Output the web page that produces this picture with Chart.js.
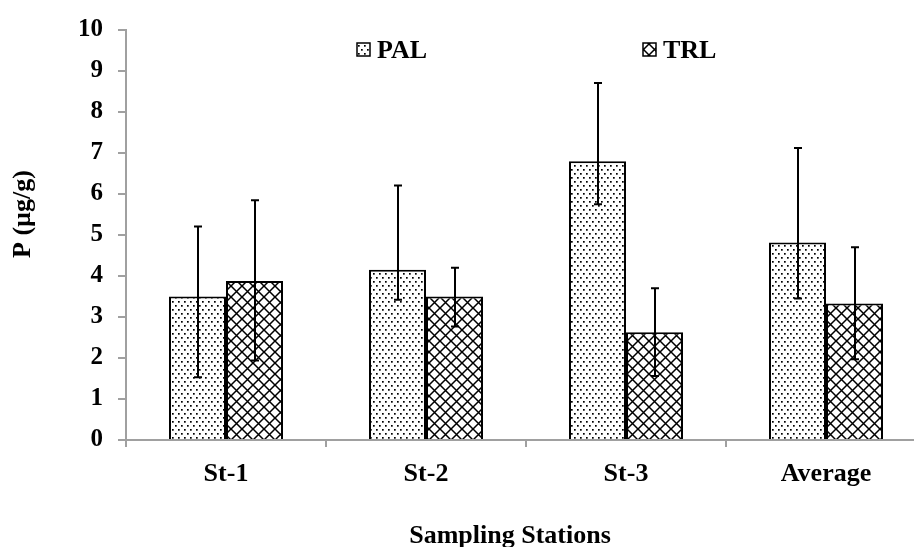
<!DOCTYPE html>
<html>
<head>
<meta charset="utf-8">
<script src="https://cdn.jsdelivr.net/npm/chart.js@4/dist/chart.umd.min.js"></script>
<style>
  html, body { margin: 0; padding: 0; background: #fff; overflow: hidden; }
  #wrap { position: relative; width: 940px; height: 547px; }
</style>
</head>
<body>
<div id="wrap"><canvas id="chart"></canvas></div>
<script>
const categories = ['St-1', 'St-2', 'St-3', 'Average'];
const seriesNames = ['PAL', 'TRL'];
const palValues = [3.5, 4.15, 6.8, 4.82];
const trlValues = [3.88, 3.5, 2.63, 3.33];
const palHigh = [5.21, 6.21, 8.71, 7.12];
const palLow = [1.53, 3.42, 5.75, 3.45];
const trlHigh = [5.85, 4.2, 3.7, 4.7];
const trlLow = [1.94, 2.77, 1.56, 1.97];
const yTicks = [0, 1, 2, 3, 4, 5, 6, 7, 8, 9, 10];
const xTitle = 'Sampling Stations';
const yTitle = 'P (µg/g)';

const FONT = "'Liberation Serif', 'Times New Roman', serif";

function dotPattern() {
  const c = document.createElement('canvas');
  c.width = 6; c.height = 8;
  const g = c.getContext('2d');
  g.fillStyle = '#fff'; g.fillRect(0, 0, 6, 8);
  g.fillStyle = '#000';
  g.fillRect(1, 1, 1.7, 1.7);
  g.fillRect(4, 5, 1.7, 1.7);
  return g.createPattern(c, 'repeat');
}

function crossPattern() {
  const c = document.createElement('canvas');
  c.width = 11; c.height = 11;
  const g = c.getContext('2d');
  g.fillStyle = '#fff'; g.fillRect(0, 0, 11, 11);
  g.strokeStyle = '#000'; g.lineWidth = 1.5;
  g.beginPath();
  g.moveTo(-1, -1); g.lineTo(12, 12);
  g.moveTo(12, -1); g.lineTo(-1, 12);
  g.stroke();
  return g.createPattern(c, 'repeat');
}

const patterns = [dotPattern(), crossPattern()];
const highs = [palHigh, trlHigh];
const lows = [palLow, trlLow];

// error bars drawn from the same y scale
const errorBars = {
  id: 'errorBars',
  afterDatasetsDraw(chart) {
    const ctx = chart.ctx, y = chart.scales.y;
    ctx.save();
    ctx.strokeStyle = '#000';
    ctx.lineWidth = 2;
    chart.data.datasets.forEach((ds, di) => {
      chart.getDatasetMeta(di).data.forEach((bar, i) => {
        const yh = y.getPixelForValue(highs[di][i]);
        const yl = y.getPixelForValue(lows[di][i]);
        const x = Math.round(bar.x);
        ctx.beginPath();
        ctx.moveTo(x, yh); ctx.lineTo(x, yl);
        ctx.moveTo(x - 4, yh); ctx.lineTo(x + 4, yh);
        ctx.moveTo(x - 4, yl); ctx.lineTo(x + 4, yl);
        ctx.stroke();
      });
    });
    ctx.restore();
  }
};

// legend and axis titles
const decorations = {
  id: 'decorations',
  afterDraw(chart) {
    const ctx = chart.ctx;
    ctx.save();
    ctx.font = 'bold 26px ' + FONT;
    ctx.fillStyle = '#000';
    ctx.textBaseline = 'middle';
    const legendX = [357, 643];
    chart.data.datasets.forEach((ds, i) => {
      const x = legendX[i];
      ctx.fillStyle = ds.backgroundColor;
      ctx.fillRect(x, 43, 13, 13);
      ctx.strokeStyle = '#000';
      ctx.lineWidth = 1.5;
      ctx.strokeRect(x, 43, 13, 13);
      ctx.fillStyle = '#000';
      ctx.textAlign = 'left';
      ctx.fillText(ds.label, x + 20, 51);
    });
    ctx.textAlign = 'center';
    ctx.textBaseline = 'alphabetic';
    ctx.fillText(xTitle, 510, 543);
    ctx.translate(23, 214);
    ctx.rotate(-Math.PI / 2);
    ctx.textBaseline = 'middle';
    ctx.fillText(yTitle, 0, 0);
    ctx.restore();
  }
};

new Chart(document.getElementById('chart'), {
  type: 'bar',
  data: {
    labels: categories,
    datasets: [
      { label: seriesNames[0], data: palValues, backgroundColor: patterns[0], borderColor: '#000', borderWidth: 2 },
      { label: seriesNames[1], data: trlValues, backgroundColor: patterns[1], borderColor: '#000', borderWidth: 2 }
    ]
  },
  options: {
    responsive: true,
    maintainAspectRatio: false,
    animation: false,
    devicePixelRatio: 1,
    categoryPercentage: 0.57,
    barPercentage: 1,
    layout: { padding: { left: 0, top: 27, right: 14, bottom: 0 } },
    plugins: { legend: { display: false }, tooltip: { enabled: false } },
    scales: {
      x: {
        afterFit: s => { s.height = 107; },
        border: { color: '#a0a0a0', width: 2 },
        grid: { offset: true, drawOnChartArea: false, color: '#a0a0a0', lineWidth: 2, tickLength: 7 },
        ticks: { color: '#000', font: { family: FONT, size: 26, weight: 'bold' }, padding: 12 }
      },
      y: {
        min: 0,
        max: 10,
        afterFit: s => { s.width = 126; },
        afterBuildTicks: s => { s.ticks = yTicks.map(v => ({ value: v })); },
        border: { color: '#a0a0a0', width: 2 },
        grid: { drawOnChartArea: false, color: '#a0a0a0', lineWidth: 2, tickLength: 8 },
        ticks: { color: '#000', font: { family: FONT, size: 25, weight: 'bold' }, padding: 15 }
      }
    }
  },
  plugins: [errorBars, decorations]
});
</script>
</body>
</html>
